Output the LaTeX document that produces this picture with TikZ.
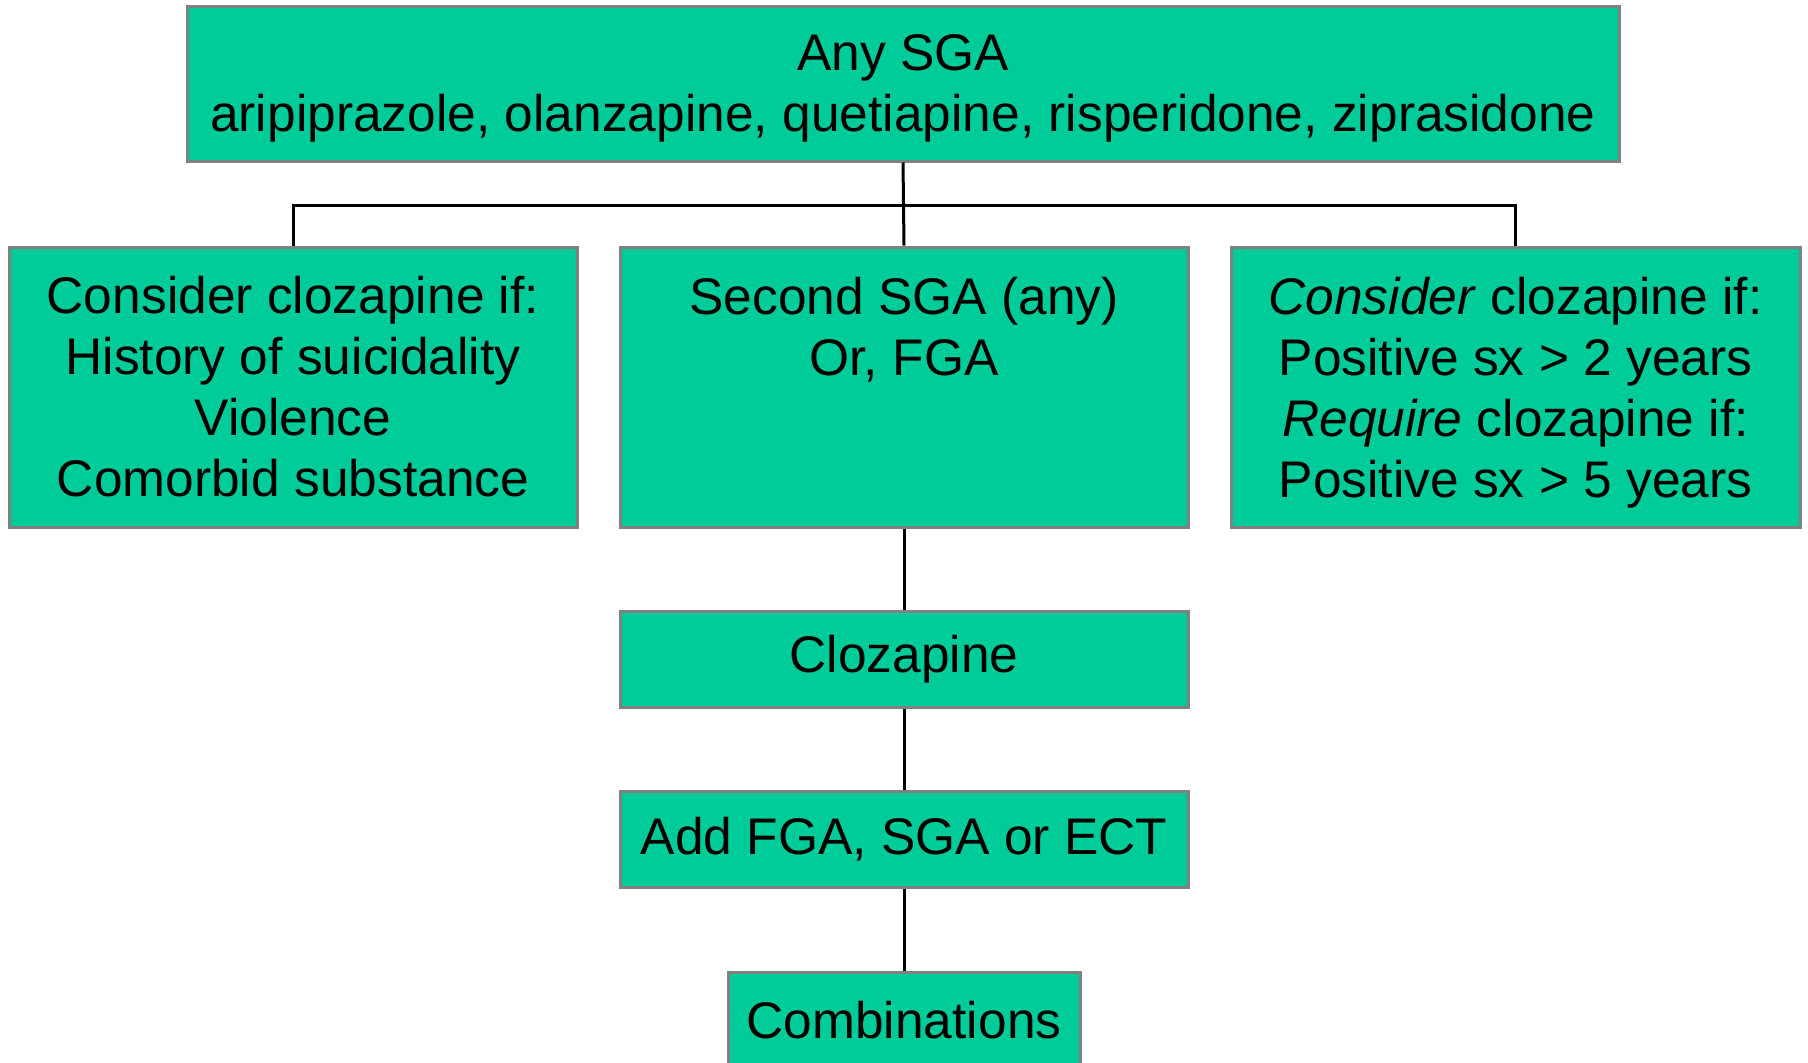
\documentclass[tikz,border=0pt]{standalone}
\usepackage{fontspec}
\setmainfont{Liberation Sans}
\newcommand{\nodepth}[1]{\raisebox{0pt}[\height][0pt]{#1}}
\begin{document}
\begin{tikzpicture}[x=1pt,y=-1pt,
  box/.style={draw=boxgray,line width=3pt,fill=teal1,inner sep=0pt,align=center,
    font=\fontsize{51.5}{61}\selectfont},
  conn/.style={draw=black,line width=3pt}]
\definecolor{teal1}{RGB}{0,204,153}
\definecolor{boxgray}{RGB}{128,128,128}
\useasboundingbox (0,0) rectangle (1808,1063);
\fill[white] (0,0) rectangle (1808,1063);
\node[box,minimum width=1432pt,minimum height=155pt] (top) at (903,83.5)
  {Any SGA\\\nodepth{aripiprazole, olanzapine, quetiapine, risperidone, ziprasidone}};
\node[box,minimum width=568pt,minimum height=280pt] (left) at (293,387)
  {Consider clozapine if:\\History of suicidality\\Violence\\Comorbid substance};
\node[box,minimum width=568pt,minimum height=280pt] (mid) at (904,387)
  {Second SGA (any)\\Or, FGA\\\mbox{}\\\mbox{}};
\node[box,minimum width=569pt,minimum height=280pt] (right) at (1515.5,387)
  {\textit{Consider} clozapine if:\\Positive sx > 2 years\\\textit{Require} clozapine if:\\\nodepth{Positive sx > 5 years}};
\node[box,minimum width=568pt,minimum height=96pt] (cloz) at (904,659) {Clozapine};
\node[box,minimum width=568pt,minimum height=96pt] (add) at (904,839) {Add FGA, SGA or ECT};
\node[box,minimum width=352pt,minimum height=96pt] (comb) at (904,1020) {Combinations};
\coordinate (bar) at (0,205);
\draw[conn] (top.south) -- (mid.north);
\draw[conn] (left.north) -- (left.north |- bar) -- (right.north |- bar) -- (right.north);
\draw[conn] (mid.south) -- (cloz.north);
\draw[conn] (cloz.south) -- (add.north);
\draw[conn] (add.south) -- (comb.north);
\end{tikzpicture}
\end{document}
